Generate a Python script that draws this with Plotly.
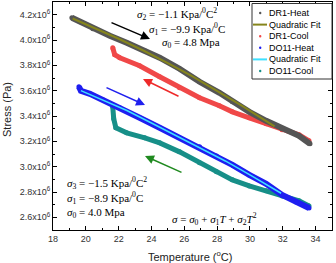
import plotly.graph_objects as go

# ---------------- data ----------------
dr1_heat_T = [19.15, 19.64, 20.43, 21.46, 22.49, 23.59, 24.50, 25.71, 26.93, 28.14, 28.93, 29.96, 30.99, 31.96, 32.99, 33.66]
dr1_heat_S = [4.176, 4.145, 4.089, 4.034, 3.979, 3.915, 3.860, 3.773, 3.670, 3.583, 3.512, 3.433, 3.362, 3.299, 3.243, 3.180]

dr1_fit_T = [19.2, 20.5, 22.0, 23.5, 25.0, 26.5, 28.0, 29.5, 31.5]
dr1_fit_S = [4.170, 4.098, 4.010, 3.917, 3.818, 3.712, 3.600, 3.482, 3.318]

dr1_cool_T = [21.64, 21.76, 22.07, 23.28, 24.50, 25.71, 26.93, 28.14, 28.93, 29.96, 30.99, 31.96, 32.99, 33.60]
dr1_cool_S = [3.939, 3.884, 3.860, 3.797, 3.710, 3.623, 3.544, 3.481, 3.433, 3.386, 3.338, 3.291, 3.251, 3.204]

do11_heat_T = [19.58, 19.70, 20.25, 21.04, 22.07, 23.28, 24.50, 25.71, 26.93, 27.96, 28.93, 29.96, 30.99, 31.96, 32.81, 33.60]
do11_heat_S = [3.631, 3.599, 3.575, 3.528, 3.465, 3.386, 3.307, 3.228, 3.157, 3.085, 3.014, 2.935, 2.864, 2.777, 2.722, 2.674]

do11_fit_T = [19.7, 21.0, 22.5, 24.0, 25.5, 27.0, 28.5, 30.0, 31.9]
do11_fit_S = [3.600, 3.530, 3.443, 3.345, 3.245, 3.150, 3.045, 2.935, 2.790]

do11_cool_T = [21.64, 21.70, 21.83, 22.49, 23.59, 24.50, 25.71, 26.93, 27.96, 28.93, 29.96, 30.99, 31.96, 32.99, 33.60]
do11_cool_S = [3.473, 3.378, 3.307, 3.267, 3.228, 3.188, 3.117, 3.030, 2.959, 2.896, 2.848, 2.809, 2.769, 2.730, 2.690]

x_ticks = [18, 20, 22, 24, 26, 28, 30, 32, 34]
y_ticks_mpa = [2.6, 2.8, 3.0, 3.2, 3.4, 3.6, 3.8, 4.0, 4.2]

legend_names = ["DR1-Heat", "Quadratic Fit", "DR1-Cool", "DO11-Heat", "Quadratic Fit", "DO11-Cool"]

# ---------------- styling ----------------
C_GRAY = "#555555"
C_OLIVE = "#85851c"
C_RED = "#f04848"
C_BLUE = "#1e1ef0"
C_CYAN = "#3ee0ff"
C_TEAL = "#178f88"
SANS = "Liberation Sans, Arial, sans-serif"

def pa(vals):
    return [v * 1e6 for v in vals]

fig = go.Figure()

def band(T, S, color, name, w=6):
    fig.add_trace(go.Scatter(x=T, y=pa(S), mode="lines+markers", name=name,
                             line=dict(color=color, width=w),
                             marker=dict(color=color, size=5),
                             showlegend=False))

def fit(T, S, color, name, w):
    fig.add_trace(go.Scatter(x=T, y=pa(S), mode="lines", name=name,
                             line=dict(color=color, width=w), showlegend=False))

band(do11_cool_T, do11_cool_S, C_TEAL, legend_names[5], 5)
band(dr1_cool_T, dr1_cool_S, C_RED, legend_names[2], 5)
band(dr1_heat_T, dr1_heat_S, C_GRAY, legend_names[0], 6)
fit(dr1_fit_T, dr1_fit_S, C_OLIVE, legend_names[1], 2)
band(do11_heat_T, do11_heat_S, C_BLUE, legend_names[3], 6)
fit(do11_fit_T, do11_fit_S, C_CYAN, legend_names[4], 1.5)

# ---------------- axes ----------------
L, R, T_, B = 53, 4, 2, 33
W, H = 336, 263
pw, ph = W - L - R, H - T_ - B

tickfont = dict(family=SANS, size=9, color="#333")
fig.update_xaxes(range=[18, 35], tickmode="array", tickvals=x_ticks,
                 ticktext=[str(v) for v in x_ticks],
                 ticks="inside", ticklen=4, tickcolor="black", tickwidth=1,
                 minor=dict(dtick=1, ticks="inside", ticklen=2, tickcolor="black"),
                 showline=True, linecolor="black", linewidth=1, mirror="ticks",
                 showgrid=False, zeroline=False, tickfont=tickfont)
fig.update_yaxes(range=[2.5e6, 4.3e6], tickmode="array", tickvals=pa(y_ticks_mpa),
                 ticktext=[f"{v:.1f}x10<sup>6</sup>" for v in y_ticks_mpa],
                 ticks="inside", ticklen=4, tickcolor="black", tickwidth=1,
                 minor=dict(dtick=1e5, ticks="inside", ticklen=2, tickcolor="black"),
                 showline=True, linecolor="black", linewidth=1, mirror="ticks",
                 showgrid=False, zeroline=False, tickfont=tickfont)

def px2paper(px, py):
    return (px - L) / pw, (H - B - py) / ph

# axis titles
xt, yt = px2paper(190, 256)
fig.add_annotation(x=xt, y=yt, xref="paper", yref="paper", text="Temperature (<sup>o</sup>C)",
                   showarrow=False, xanchor="center", yanchor="middle",
                   font=dict(family=SANS, size=11, color="#222"))
xt, yt = px2paper(7, 110)
fig.add_annotation(x=xt, y=yt, xref="paper", yref="paper", text="Stress (Pa)", textangle=-90,
                   showarrow=False, xanchor="center", yanchor="middle",
                   font=dict(family=SANS, size=11, color="#222"))

# ---------------- text annotations ----------------
serif = dict(family="Liberation Serif, DejaVu Serif, serif", size=11, color="black")
texts = [
    (135, 14, "<i>σ</i><sub>2</sub> = −1.1 Kpa/<sup>0</sup>C<sup>2</sup>"),
    (147, 29, "<i>σ</i><sub>1</sub> = −9.9 Kpa/<sup>0</sup>C"),
    (160, 43, "<i>σ</i><sub>0</sub> = 4.8 Mpa"),
    (65, 183, "<i>σ</i><sub>3</sub> = −1.5 Kpa/<sup>0</sup>C<sup>2</sup>"),
    (65, 198, "<i>σ</i><sub>1</sub> = −8.9 Kpa/<sup>0</sup>C"),
    (65, 213, "<i>σ</i><sub>0</sub> = 4.0 Mpa"),
    (170, 219, "<i>σ</i> = <i>σ</i><sub>0</sub> + <i>σ</i><sub>1</sub><i>T</i> + <i>σ</i><sub>2</sub><i>T</i><sup>2</sup>"),
]
for px, py, t in texts:
    xp, yp = px2paper(px, py)
    fig.add_annotation(x=xp, y=yp, xref="paper", yref="paper", text=t,
                       showarrow=False, xanchor="left", yanchor="middle", font=serif)

# ---------------- arrows ----------------
def pxdata(px, py):
    return 18 + (px - L) / (pw / 17.0), 4.3e6 - (py - T_) / ph * 1.8e6

arrows = [
    ((110, 22), (150, 39), "black"),
    ((180, 97), (143, 79), "#ee2a2a"),
    ((105, 87), (145, 105), "#2020ee"),
    ((183, 173), (145, 156), "#1f8a1f"),
]
for (tx, ty), (hx, hy), col in arrows:
    xd, yd = pxdata(hx, hy)
    fig.add_annotation(x=xd, y=yd, xref="x", yref="y", ax=tx - hx, ay=ty - hy,
                       text="", showarrow=True, arrowhead=2, arrowsize=1.2,
                       arrowwidth=1.5, arrowcolor=col)

# ---------------- manual legend ----------------
bx0, by0 = px2paper(252, 79)
bx1, by1 = px2paper(332, 3.5)
fig.add_shape(type="rect", xref="paper", yref="paper", x0=bx0, y0=by0, x1=bx1, y1=by1,
              fillcolor="white", line=dict(color="#333", width=1))
leg_kinds = [("dot", C_GRAY), ("line", C_OLIVE), ("dot", C_RED),
             ("dot", C_BLUE), ("line", C_CYAN), ("dot", C_TEAL)]
for i, (name, (kind, col)) in enumerate(zip(legend_names, leg_kinds)):
    py = 13 + i * 11.6
    xt, yt = px2paper(268, py)
    fig.add_annotation(x=xt, y=yt, xref="paper", yref="paper", text=name,
                       showarrow=False, xanchor="left", yanchor="middle", borderpad=0,
                       font=dict(family=SANS, size=9, color="black"))
    if kind == "line":
        xa, ya = px2paper(253, py)
        xb, _ = px2paper(267, py)
        fig.add_shape(type="line", xref="paper", yref="paper", x0=xa, x1=xb, y0=ya, y1=ya,
                      line=dict(color=col, width=2))
    else:
        xa, ya = px2paper(259, py + 1.2)
        xb, yb = px2paper(261.4, py - 1.2)
        fig.add_shape(type="circle", xref="paper", yref="paper", x0=xa, x1=xb, y0=ya, y1=yb,
                      fillcolor=col, line=dict(color=col, width=0))

fig.update_layout(width=W, height=H, margin=dict(l=L, r=R, t=T_, b=B, autoexpand=False),
                  plot_bgcolor="white", paper_bgcolor="white", showlegend=False)

fig.write_html("out.html", config={"displayModeBar": False},
               post_script="document.body.style.margin='0';document.body.style.overflow='hidden';")
